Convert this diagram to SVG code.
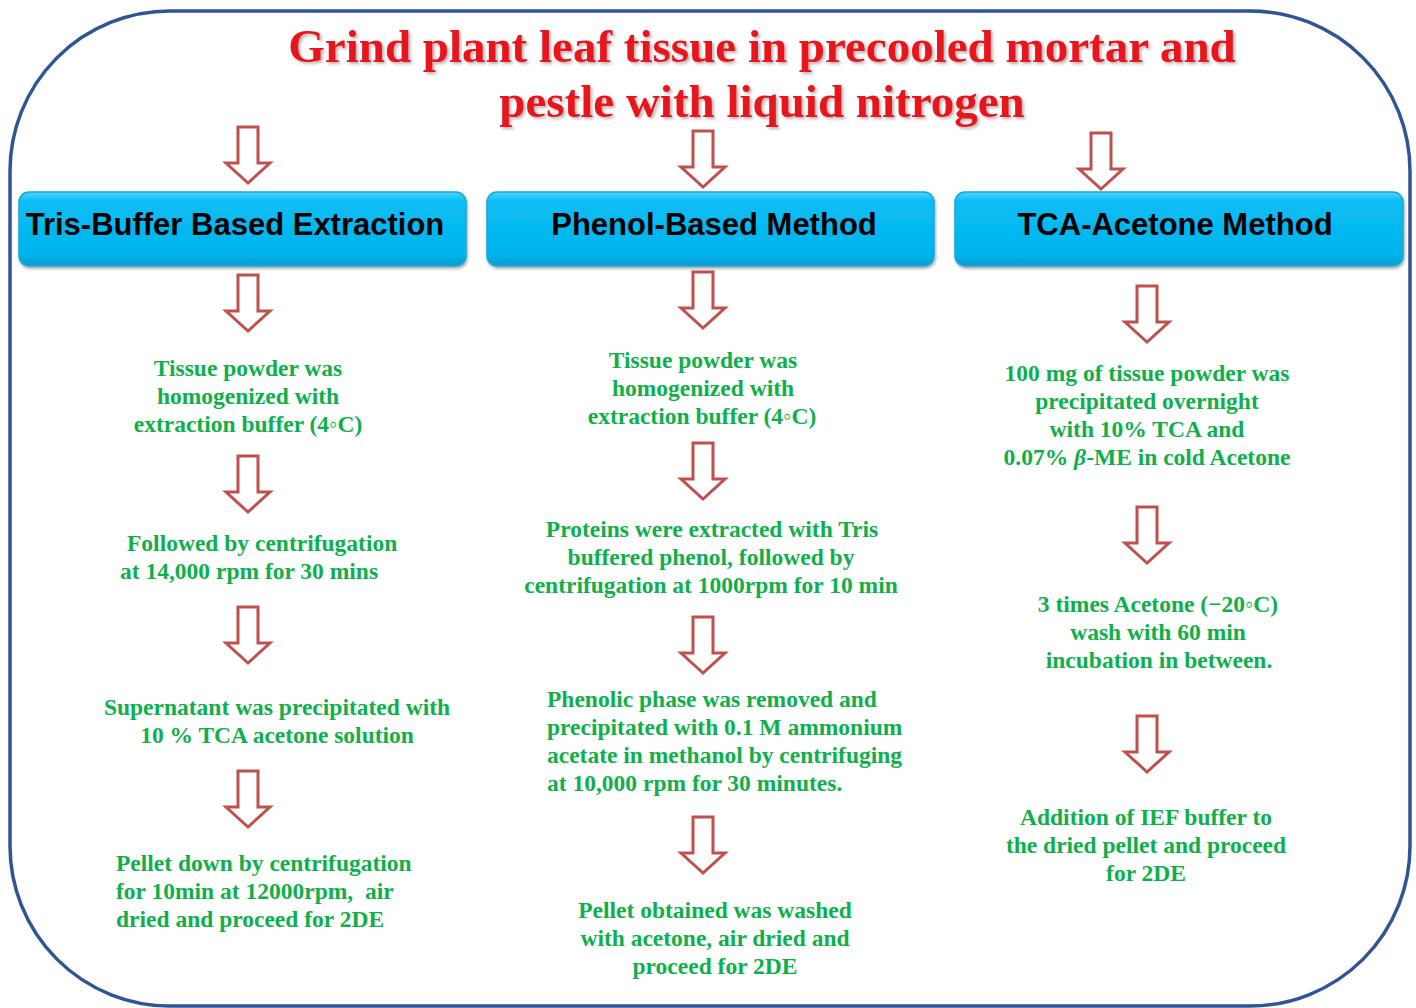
<svg xmlns="http://www.w3.org/2000/svg" xmlns:xlink="http://www.w3.org/1999/xlink" width="1416" height="1008" viewBox="0 0 1416 1008">
<style>
.title{font-family:"Liberation Serif","Times New Roman",serif;font-weight:bold;font-size:47px;fill:#e8141c;text-anchor:middle}
.hdr{font-family:"Liberation Sans",Arial,sans-serif;font-weight:bold;font-size:31px;fill:#000;text-anchor:middle}
.g{font-family:"Liberation Serif","Times New Roman",serif;font-weight:bold;font-size:23.5px;fill:#0db04b;text-anchor:middle}
.gl{font-family:"Liberation Serif","Times New Roman",serif;font-weight:bold;font-size:23.5px;fill:#0db04b}
.box{fill:url(#bg);stroke:#1aa6d6;stroke-width:1.5}
.arr{fill:#fff;stroke:#c0504d;stroke-width:3;stroke-linejoin:miter}
</style>
<defs>
<linearGradient id="bg" x1="0" y1="0" x2="0" y2="1">
<stop offset="0" stop-color="#4dd6ff"/>
<stop offset="0.12" stop-color="#0bbdf5"/>
<stop offset="0.85" stop-color="#00b4ec"/>
<stop offset="1" stop-color="#0a9bcf"/>
</linearGradient>
<filter id="sh" x="-5%" y="-10%" width="110%" height="130%">
<feDropShadow dx="1" dy="2" stdDeviation="1.5" flood-color="#000" flood-opacity="0.35"/>
</filter>
<filter id="tsh" x="-5%" y="-20%" width="110%" height="140%">
<feDropShadow dx="2" dy="2" stdDeviation="1.5" flood-color="#000" flood-opacity="0.3"/>
</filter>
<path id="ar" d="M-10,0 h20 v36 h12 l-22,20 l-22,-20 h12 z"/>
</defs>
<rect width="1416" height="1008" fill="#fff"/>
<rect x="10" y="11" width="1400" height="995" rx="160" ry="160" fill="none" stroke="#2f5597" stroke-width="3.5"/>

<g id="title" filter="url(#tsh)">
<text class="title" x="762" y="62">Grind plant leaf tissue in precooled mortar and</text>
<text class="title" x="762" y="117">pestle with liquid nitrogen</text>
</g>

<g id="connectors">
<use href="#ar" class="arr" x="248" y="127"/>
<use href="#ar" class="arr" x="248" y="275"/>
<use href="#ar" class="arr" x="248" y="456"/>
<use href="#ar" class="arr" x="248" y="607"/>
<use href="#ar" class="arr" x="248" y="771"/>
<use href="#ar" class="arr" x="703" y="131"/>
<use href="#ar" class="arr" x="703" y="272"/>
<use href="#ar" class="arr" x="703" y="443"/>
<use href="#ar" class="arr" x="703" y="617"/>
<use href="#ar" class="arr" x="703" y="817"/>
<use href="#ar" class="arr" x="1101" y="133"/>
<use href="#ar" class="arr" x="1147" y="286"/>
<use href="#ar" class="arr" x="1147" y="507"/>
<use href="#ar" class="arr" x="1147" y="716"/>
</g>

<g id="box-tris">
<rect class="box" x="19" y="192" width="447" height="74" rx="10" filter="url(#sh)"/>
<text class="hdr" x="235" y="235">Tris-Buffer Based Extraction</text>
</g>
<g id="box-phenol">
<rect class="box" x="487" y="192" width="447" height="74" rx="10" filter="url(#sh)"/>
<text class="hdr" x="714" y="235">Phenol-Based Method</text>
</g>
<g id="box-tca">
<rect class="box" x="955" y="192" width="448" height="74" rx="10" filter="url(#sh)"/>
<text class="hdr" x="1175" y="235">TCA-Acetone Method</text>
</g>

<g id="t1">
<text class="g" x="248" y="376">Tissue powder was</text>
<text class="g" x="248" y="404">homogenized with</text>
<text class="g" x="248" y="432">extraction buffer (4◦C)</text>
</g>
<g id="t2">
<text class="gl" x="127" y="551">Followed by centrifugation</text>
<text class="gl" x="120" y="579">at 14,000 rpm for 30 mins</text>
</g>
<g id="t3">
<text class="g" x="277" y="715">Supernatant was precipitated with</text>
<text class="g" x="277" y="743">10 % TCA acetone solution</text>
</g>
<g id="t4">
<text class="gl" x="116" y="871">Pellet down by centrifugation</text>
<text class="gl" x="116" y="899" xml:space="preserve">for 10min at 12000rpm,  air</text>
<text class="gl" x="116" y="927">dried and proceed for 2DE</text>
</g>

<g id="p1">
<text class="g" x="703" y="368">Tissue powder was</text>
<text class="g" x="703" y="396">homogenized with</text>
<text class="g" x="702" y="424">extraction buffer (4◦C)</text>
</g>
<g id="p2">
<text class="g" x="712" y="537">Proteins were extracted with Tris</text>
<text class="g" x="711" y="565">buffered phenol, followed by</text>
<text class="g" x="711" y="593">centrifugation at 1000rpm for 10 min</text>
</g>
<g id="p3">
<text class="gl" x="547" y="707">Phenolic phase was removed and</text>
<text class="gl" x="547" y="735">precipitated with 0.1 M ammonium</text>
<text class="gl" x="547" y="763">acetate in methanol by centrifuging</text>
<text class="gl" x="547" y="791">at 10,000 rpm for 30 minutes.</text>
</g>
<g id="p4">
<text class="g" x="715" y="918">Pellet obtained was washed</text>
<text class="g" x="715" y="946">with acetone, air dried and</text>
<text class="g" x="715" y="974">proceed for 2DE</text>
</g>

<g id="c1">
<text class="g" x="1147" y="381">100 mg of tissue powder was</text>
<text class="g" x="1147" y="409">precipitated overnight</text>
<text class="g" x="1147" y="437">with 10% TCA and</text>
<text class="g" x="1147" y="465">0.07% <tspan font-style="italic">β</tspan>-ME in cold Acetone</text>
</g>
<g id="c2">
<text class="g" x="1158" y="612">3 times Acetone (−20◦C)</text>
<text class="g" x="1158" y="640">wash with 60 min</text>
<text class="g" x="1159" y="668">incubation in between.</text>
</g>
<g id="c3">
<text class="g" x="1146" y="825">Addition of IEF buffer to</text>
<text class="g" x="1146" y="853">the dried pellet and proceed</text>
<text class="g" x="1146" y="881">for 2DE</text>
</g>
</svg>
